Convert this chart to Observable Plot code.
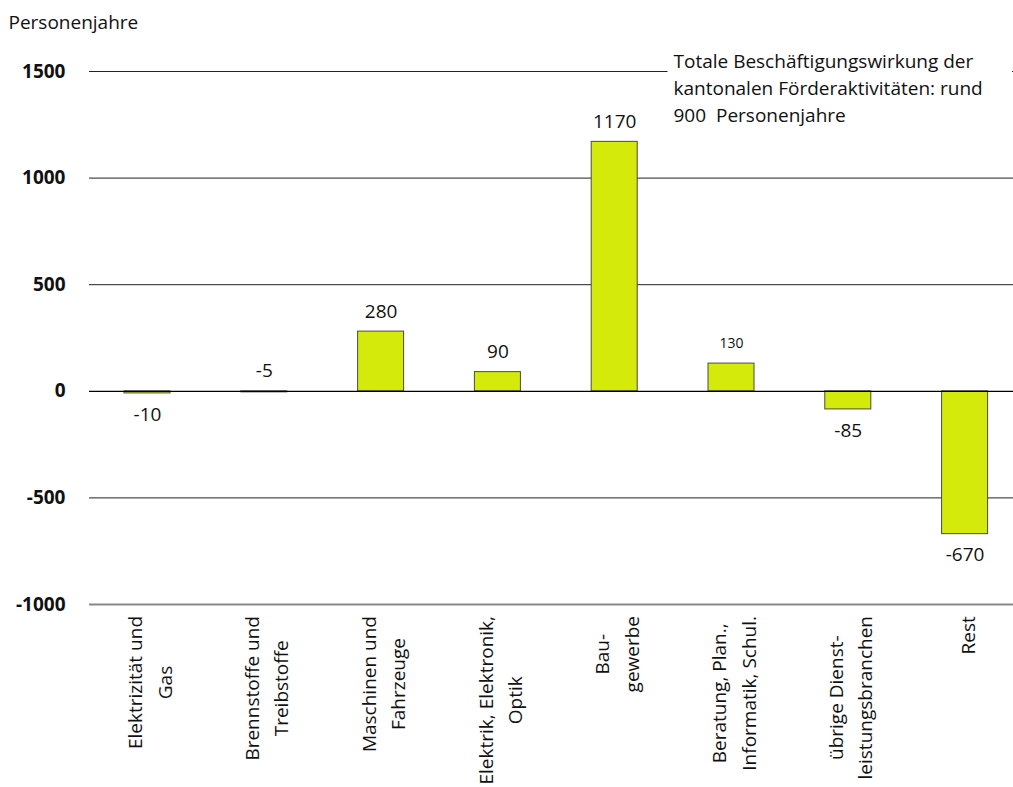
<!DOCTYPE html>
<html>
<head>
<meta charset="utf-8">
<script src="https://cdn.jsdelivr.net/npm/d3@7"></script>
<script src="https://cdn.jsdelivr.net/npm/@observablehq/plot@0.6"></script>
<style>
  body { margin: 0; background: #fff; }
  #chart svg { display: block; }
</style>
</head>
<body>
<div id="chart"></div>
<script>
// ---- data ----
const categories = [
  "Elektrizität und\nGas",
  "Brennstoffe und\nTreibstoffe",
  "Maschinen und\nFahrzeuge",
  "Elektrik, Elektronik,\nOptik",
  "Bau-\ngewerbe",
  "Beratung, Plan.,\nInformatik, Schul.",
  "übrige Dienst-\nleistungsbranchen",
  "Rest"
];
const values = [-10, -5, 280, 90, 1170, 130, -85, -670];
const yTicks = [-1000, -500, 0, 500, 1000, 1500];
const gridValues = [-500, 500, 1000, 1500];
const yTitle = "Personenjahre";
const noteText = "Totale Beschäftigungswirkung der\nkantonalen Förderaktivitäten: rund\n900  Personenjahre";

const data = categories.map((c, i) => ({category: c, value: values[i]}));
const FONT = "'Open Sans', 'Noto Sans', sans-serif";

const chart = Plot.plot({
  width: 1013,
  height: 787,
  marginLeft: 89,
  marginRight: 0,
  marginTop: 71,
  marginBottom: 183,
  style: {fontFamily: FONT, fontSize: "19px", color: "#111", background: "#fff"},
  x: {domain: categories, range: [124, 987.6], paddingInner: 0.606, paddingOuter: 0, round: false, label: null},
  y: {domain: [-1000, 1500], label: null},
  marks: [
    Plot.ruleY(gridValues, {stroke: "#222", strokeWidth: 1}),
    Plot.ruleY([-1000], {stroke: "#888", strokeWidth: 2}),
    Plot.barY(data, {x: "category", y: "value", fill: "#d3ea0b", stroke: "#4a4a4a", strokeWidth: 1}),
    Plot.ruleY([0], {stroke: "#000", strokeWidth: 1.3}),
    // value labels above
    Plot.text(data, {
      filter: d => d.value > -10,
      x: "category", y: d => Math.max(0, d.value),
      text: d => `${d.value}`, dy: -20, lineAnchor: "middle",
      fontSize: d => d.value === 130 ? 14 : 19, fill: "#111"
    }),
    // value labels below
    Plot.text(data, {
      filter: d => d.value <= -10,
      x: "category", y: "value",
      text: d => `${d.value}`, dy: 21, lineAnchor: "middle",
      fontSize: 19, fill: "#111"
    }),
    Plot.axisY(yTicks, {
      tickSize: 0, tickPadding: 24, fontWeight: "bold", fontSize: 19,
      tickFormat: d => `${d}`, label: null
    }),
    Plot.axisX({
      tickSize: 0, tickPadding: 10, rotate: -90, textAnchor: "middle",
      lineAnchor: "middle", lineHeight: 1.55, fontSize: 19, label: null,
      className: "xlabels"
    }),
    Plot.text([yTitle], {
      frameAnchor: "top-left", dx: -81, dy: -49, textAnchor: "start",
      lineAnchor: "middle", fontSize: 19, fill: "#111"
    }),
    Plot.text([noteText], {
      frameAnchor: "top-left", dx: 584, dy: -22, textAnchor: "start",
      lineAnchor: "top", lineHeight: 1.4, fontSize: 19, fill: "#111",
      className: "note"
    })
  ]
});

document.getElementById("chart").appendChild(chart);

// ---- layout adjustments: align top of rotated category labels, mask behind note ----
const svgRect = chart.getBoundingClientRect();
const LABEL_TOP = 616;
chart.querySelectorAll("text").forEach(t => {
  const tr = t.getAttribute("transform");
  if (!tr || !/rotate\(-90\)/.test(tr)) return;
  const r = t.getBoundingClientRect();
  const top = r.top - svgRect.top;
  const shift = LABEL_TOP - top;
  const m = tr.match(/translate\(([-\d.]+)[ ,]+([-\d.]+)\)/);
  if (m) {
    const nx = +m[1], ny = +m[2] + shift;
    t.setAttribute("transform", tr.replace(m[0], `translate(${nx},${ny})`));
  }
});

const noteG = chart.querySelector("g.note") || [...chart.querySelectorAll("g")].find(g => g.textContent.startsWith("Totale"));
if (noteG) {
  const r = noteG.getBoundingClientRect();
  const rect = document.createElementNS("http://www.w3.org/2000/svg", "rect");
  rect.setAttribute("x", r.left - svgRect.left - 6);
  rect.setAttribute("y", r.top - svgRect.top - 4);
  rect.setAttribute("width", 1013 - (r.left - svgRect.left - 6) - 1);
  rect.setAttribute("height", r.height + 8);
  rect.setAttribute("fill", "#fff");
  noteG.parentNode.insertBefore(rect, noteG);
}
</script>
</body>
</html>
